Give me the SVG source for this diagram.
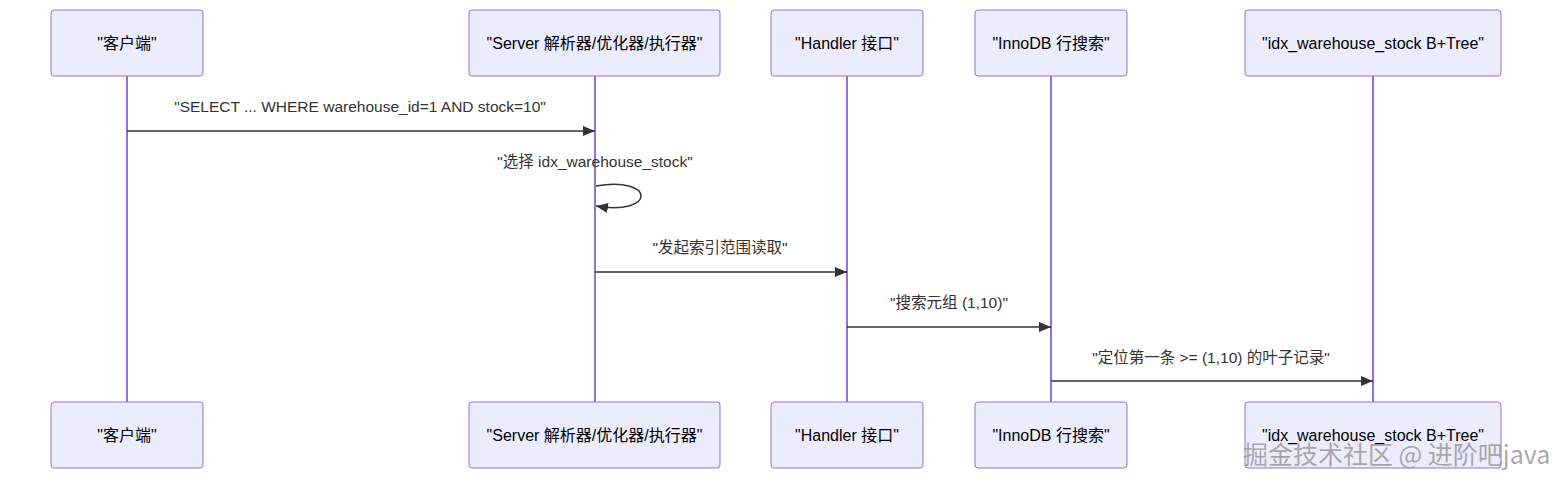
<svg xmlns="http://www.w3.org/2000/svg" width="1568" height="486" viewBox="0 0 1568 486">
<style>
.actor{fill:#ECECFF;stroke:#9370DB;stroke-width:1}
.life{stroke:#9370DB;stroke-width:2}
.atext{font-family:"Liberation Sans","Noto Sans CJK SC",sans-serif;font-size:16px;fill:#000;text-anchor:middle;dominant-baseline:central}
.msg{stroke:#333;stroke-width:1.5;fill:none}
.mtext{font-family:"Liberation Sans","Noto Sans CJK SC",sans-serif;font-size:15.5px;fill:#333;text-anchor:middle;dominant-baseline:central}
.wm{font-family:"Noto Sans CJK SC",sans-serif;font-size:25px;fill:#9a9a9a;fill-opacity:0.85}
</style>
<defs>
<marker id="arrow" viewBox="0 0 12 10" refX="12" refY="5" markerWidth="12" markerHeight="10" markerUnits="userSpaceOnUse" orient="auto">
<path d="M0,0 L12,5 L0,10 z" fill="#333"/>
</marker>
</defs>
<rect width="1568" height="486" fill="#fff"/>
<g id="lifelines">
<line class="life" x1="127" y1="76" x2="127" y2="402"/>
<line class="life" x1="595" y1="76" x2="595" y2="402"/>
<line class="life" x1="847" y1="76" x2="847" y2="402"/>
<line class="life" x1="1051" y1="76" x2="1051" y2="402"/>
<line class="life" x1="1373" y1="76" x2="1373" y2="402"/>
</g>
<g id="client">
<rect class="actor" x="51" y="10" width="152" height="66" rx="3"/>
<text class="atext" x="127" y="43">"客户端"</text>
<rect class="actor" x="51" y="402" width="152" height="66" rx="3"/>
<text class="atext" x="127" y="435">"客户端"</text>
</g>
<g id="server">
<rect class="actor" x="469" y="10" width="251" height="66" rx="3"/>
<text class="atext" x="594.5" y="43">"Server 解析器/优化器/执行器"</text>
<rect class="actor" x="469" y="402" width="251" height="66" rx="3"/>
<text class="atext" x="594.5" y="435">"Server 解析器/优化器/执行器"</text>
</g>
<g id="handler">
<rect class="actor" x="771" y="10" width="152" height="66" rx="3"/>
<text class="atext" x="847" y="43">"Handler 接口"</text>
<rect class="actor" x="771" y="402" width="152" height="66" rx="3"/>
<text class="atext" x="847" y="435">"Handler 接口"</text>
</g>
<g id="innodb">
<rect class="actor" x="975" y="10" width="152" height="66" rx="3"/>
<text class="atext" x="1051" y="43">"InnoDB 行搜索"</text>
<rect class="actor" x="975" y="402" width="152" height="66" rx="3"/>
<text class="atext" x="1051" y="435">"InnoDB 行搜索"</text>
</g>
<g id="btree">
<rect class="actor" x="1245" y="10" width="256" height="66" rx="3"/>
<text class="atext" x="1373" y="43">"idx_warehouse_stock B+Tree"</text>
<rect class="actor" x="1245" y="402" width="256" height="66" rx="3"/>
<text class="atext" x="1373" y="435">"idx_warehouse_stock B+Tree"</text>
</g>
<g id="connectors">
<text class="mtext" x="360" y="106">"SELECT ... WHERE warehouse_id=1 AND stock=10"</text>
<line class="msg" x1="127" y1="131" x2="595" y2="131" marker-end="url(#arrow)"/>
<text class="mtext" x="595" y="161">"选择 idx_warehouse_stock"</text>
<path class="msg" d="M596,186 C656,176 656,216 596,206" marker-end="url(#arrow)"/>
<text class="mtext" x="720" y="247">"发起索引范围读取"</text>
<line class="msg" x1="595" y1="272" x2="847" y2="272" marker-end="url(#arrow)"/>
<text class="mtext" x="949" y="302">"搜索元组 (1,10)"</text>
<line class="msg" x1="847" y1="327" x2="1051" y2="327" marker-end="url(#arrow)"/>
<text class="mtext" x="1211" y="357">"定位第一条 &gt;= (1,10) 的叶子记录"</text>
<line class="msg" x1="1051" y1="381" x2="1373" y2="381" marker-end="url(#arrow)"/>
</g>
<text class="wm" x="1243" y="464">掘金技术社区 @ 进阶吧java</text>
</svg>
